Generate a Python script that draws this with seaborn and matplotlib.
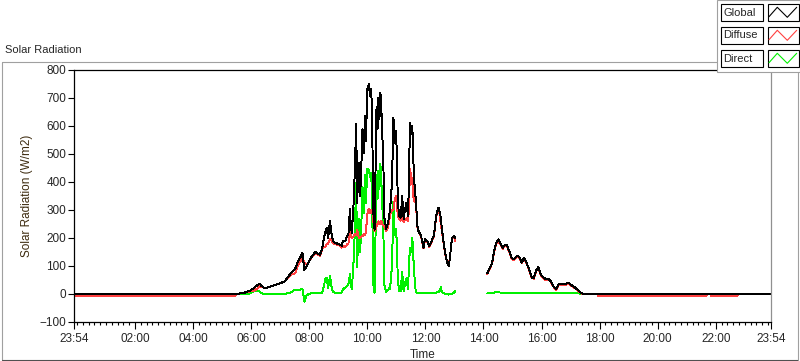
import numpy as np
import pandas as pd
import matplotlib
matplotlib.use("Agg")
import matplotlib.pyplot as plt
import seaborn as sns
from matplotlib.lines import Line2D
from matplotlib.patches import Rectangle

# ---------------- data (minutes from midnight; values W/m2) ----------------
minutes_am = [-6, 326, 330, 345, 358, 366, 372, 377, 382, 389,
              398, 409, 420, 430, 440, 446, 451, 457, 462, 466,
              470, 475, 482, 488, 492, 497, 502, 507, 510, 513,
              516, 519, 523, 526, 529, 533, 538, 544, 547, 550,
              554, 558, 561, 564, 566, 568, 571, 573, 575, 577,
              579, 581, 583, 585, 587, 590, 593, 595, 597, 600,
              603, 606, 608, 610, 612, 615, 619, 621, 623, 625,
              627, 629, 631, 633, 635, 637, 639, 641, 643, 645,
              647, 649, 651, 654, 656, 659, 661, 663, 666, 669,
              672, 675, 678, 681, 684, 686, 688, 691, 693, 695,
              697, 700, 704, 707, 711, 716, 719, 724, 728, 733,
              738, 742, 745, 747, 750, 752, 754, 760, 764, 768,
              771, 773, 776, 779, 782]
global_am = [0, 0, 0, 4, 12, 22, 30, 37, 28, 20,
             26, 32, 38, 46, 70, 82, 90, 118, 132, 146,
             86, 100, 125, 140, 150, 145, 140, 165, 195, 219,
             237, 201, 261, 215, 190, 183, 180, 176, 172, 190,
             188, 205, 215, 303, 240, 219, 300, 380, 493, 606,
             326, 420, 469, 350, 420, 588, 505, 636, 545, 731,
             749, 707, 731, 636, 302, 230, 667, 589, 701, 625,
             719, 660, 565, 482, 273, 255, 232, 245, 255, 280,
             303, 350, 400, 630, 540, 582, 506, 326, 279, 273,
             350, 268, 303, 326, 279, 400, 612, 570, 600, 482,
             400, 339, 232, 220, 208, 165, 196, 189, 171, 189,
             213, 279, 300, 308, 291, 270, 232, 154, 118, 100,
             130, 177, 201, 208, 200]
diffuse_am = [-6, -6, 0, 4, 10, 12, 18, 28, 26, 20,
              26, 32, 38, 46, 65, 72, 74, 105, 116, 128,
              113, 104, 123, 138, 146, 142, 137, 160, 170, 166,
              178, 180, 196, 190, 181, 178, 176, 173, 166, 172,
              166, 177, 180, 233, 205, 200, 205, 210, 215, 210,
              230, 210, 200, 200, 205, 207, 215, 210, 220, 285,
              305, 290, 300, 300, 265, 225, 240, 250, 260, 250,
              255, 260, 250, 245, 240, 235, 225, 232, 240, 260,
              285, 290, 300, 300, 330, 350, 320, 280, 268, 262,
              270, 258, 265, 270, 262, 300, 446, 420, 400, 350,
              330, 330, 230, 218, 205, 163, 193, 187, 168, 186,
              209, 274, 292, 300, 280, 246, 226, 152, 118, 102,
              131, 177, 200, 203, 188]
direct_am = [0, 0, 0, 0, 2, 10, 12, 9, 2, 0,
             0, 0, 0, 0, 5, 10, 16, 13, 16, 18,
             -27, -4, 2, 2, 4, 3, 3, 5, 25, 53,
             59, 21, 65, 25, 9, 5, 4, 3, 6, 18,
             22, 28, 35, 70, 35, 19, 95, 170, 278, 396,
             96, 210, 269, 150, 215, 381, 290, 426, 325, 446,
             444, 417, 431, 336, 37, 5, 427, 339, 441, 375,
             464, 400, 315, 237, 33, 20, 7, 13, 15, 20,
             18, 60, 100, 330, 210, 232, 186, 46, 11, 11,
             80, 10, 38, 56, 17, 100, 166, 150, 200, 132,
             70, 9, 2, 2, 3, 2, 3, 2, 3, 3,
             4, 5, 8, 8, 11, 24, 6, 2, 0, -2,
             -1, 0, 1, 5, 12]

minutes_pm = [848, 853, 858, 862, 866, 871, 876, 880, 884, 888,
              893, 898, 903, 909, 914, 919, 924, 929, 935, 940,
              944, 950, 953, 957, 960, 965, 969, 974, 979, 984,
              990, 995, 1002, 1008, 1015, 1019, 1024, 1029, 1036, 1043,
              1050, 1075, 1077, 1300, 1302, 1308, 1310, 1364, 1366, 1434]
global_pm = [74, 92, 113, 154, 183, 195, 178, 165, 175, 175,
             154, 130, 124, 136, 132, 112, 130, 112, 85, 58,
             58, 88, 96, 77, 65, 58, 52, 54, 46, 29,
             17, 35, 37, 35, 40, 35, 29, 23, 13, 2,
             0, 0, 0, 0, 0, 0, 0, 0, 0, 0]
diffuse_pm = [72, 90, 110, 149, 177, 189, 173, 161, 172, 172,
              152, 127, 121, 132, 129, 110, 127, 109, 82, 56,
              55, 85, 92, 74, 62, 56, 49, 51, 43, 27,
              15, 32, 34, 32, 37, 32, 27, 21, 11, 1,
              0, 0, -6, -6, 0, 0, -6, -6, 0, 0]
direct_pm = [2, 2, 3, 5, 6, 6, 5, 4, 3, 3,
             2, 3, 3, 4, 3, 2, 3, 3, 3, 2,
             3, 3, 4, 3, 3, 2, 3, 3, 3, 2,
             2, 3, 3, 3, 3, 3, 2, 2, 2, 1,
             0, 0, 0, 0, 0, 0, 0, 0, 0, 0]

series_names = ["Global", "Diffuse", "Direct"]
series_colors = {"Global": "#000000", "Diffuse": "#ff4040", "Direct": "#00f000"}
x_tick_hours = [-0.1, 2, 4, 6, 8, 10, 12, 14, 16, 18, 20, 22, 23.9]
x_tick_labels = ["23:54", "02:00", "04:00", "06:00", "08:00", "10:00", "12:00",
                 "14:00", "16:00", "18:00", "20:00", "22:00", "23:54"]
y_ticks = [-100, 0, 100, 200, 300, 400, 500, 600, 700, 800]

# ---------------- long-format table ----------------
rows = []
segments = [(minutes_am, global_am, diffuse_am, direct_am),
            (minutes_pm, global_pm, diffuse_pm, direct_pm)]
for seg, (mins, g, d, r) in enumerate(segments):
    for name, vals in zip(series_names, (g, d, r)):
        assert len(vals) == len(mins), (name, seg, len(vals), len(mins))
        for m, v in zip(mins, vals):
            rows.append({"hour": m / 60.0, "value": v, "series": name, "seg": seg})
df = pd.DataFrame(rows)

# ---------------- figure ----------------
sns.set_style("ticks")
plt.rcParams["font.family"] = ["Liberation Sans", "DejaVu Sans"]

W, H = 800, 361
fig = plt.figure(figsize=(W / 100, H / 100), dpi=100)
fig.patch.set_facecolor("white")

def fx(x):
    return x / W

def fy(y):
    return 1 - y / H

# outer panel frame
frame_col = "#a0a0a0"
fig.add_artist(Line2D([fx(1.5), fx(797.5)], [fy(61.5), fy(61.5)], color=frame_col, lw=0.8))
fig.add_artist(Line2D([fx(1.5), fx(1.5)], [fy(61.5), fy(359.5)], color=frame_col, lw=0.8))
fig.add_artist(Line2D([fx(1.5), fx(797.5)], [fy(359.5), fy(359.5)], color="#505050", lw=0.8))
fig.add_artist(Line2D([fx(797.5), fx(797.5)], [fy(61.5), fy(359.5)], color=frame_col, lw=0.8))

fig.text(fx(5), fy(50), "Solar Radiation", fontsize=8, ha="left", va="center")

ax = fig.add_axes([fx(74), fy(322), fx(771) - fx(74), fy(70) - fy(322)])
sns.lineplot(data=df, x="hour", y="value", hue="series",
             hue_order=["Direct", "Diffuse", "Global"], palette=series_colors,
             units="seg", estimator=None, sort=False, linewidth=0.7,
             legend=False, ax=ax)
for ln in ax.lines:
    ln.set_antialiased(False)

ax.set_xlim(-0.1, 23.9)
ax.set_ylim(-100, 800)
ax.set_xticks(x_tick_hours)
ax.set_xticklabels(x_tick_labels)
ax.set_xticks(np.arange(0, 23.85, 0.2), minor=True)
ax.set_yticks(y_ticks)
ax.tick_params(axis="x", which="major", length=5, width=0.8, direction="out",
               pad=3, labelsize=8.5, color="black")
ax.tick_params(axis="x", which="minor", length=2.5, width=0.8, direction="out", color="black")
ax.tick_params(axis="y", which="major", length=4, width=0.8, direction="out",
               pad=1.5, labelsize=8.5, color="black")
ax.set_xlabel("Time", fontsize=8.5, labelpad=3)
ax.set_ylabel("Solar Radiation (W/m2)", fontsize=8.5, labelpad=5, color="#3d2b0f")
for s in ["left", "bottom", "top"]:
    ax.spines[s].set_color("black")
    ax.spines[s].set_linewidth(0.9)
ax.spines["right"].set_color("#909090")
ax.spines["right"].set_linewidth(0.9)
ax.grid(False)

# legend panel (drawn as figure artists)
fig.add_artist(Rectangle((fx(717), fy(72)), fx(800) - fx(717), fy(0) - fy(72),
                         facecolor="white", edgecolor=frame_col, lw=0.8, zorder=5))
for i, name in enumerate(series_names):
    top = 4 + 23 * i
    fig.add_artist(Rectangle((fx(720.5), fy(top + 16.5)), fx(42.5), fy(0) - fy(16.5),
                             facecolor="white", edgecolor="black", lw=0.8, zorder=6))
    fig.text(fx(723), fy(top + 8.5), name, fontsize=8, ha="left", va="center", zorder=7)
    fig.add_artist(Rectangle((fx(767.5), fy(top + 16.5)), fx(31), fy(0) - fy(16.5),
                             facecolor="white", edgecolor="black", lw=0.8, zorder=6))
    zx = [769, 777.3, 787.3, 796.7]
    zy = [top + 12.7, top + 3.3, top + 13.3, top + 3.3]
    fig.add_artist(Line2D([fx(v) for v in zx], [fy(v) for v in zy],
                          color=series_colors[name], lw=0.8, zorder=7))

fig.savefig("out.png", dpi=100)
